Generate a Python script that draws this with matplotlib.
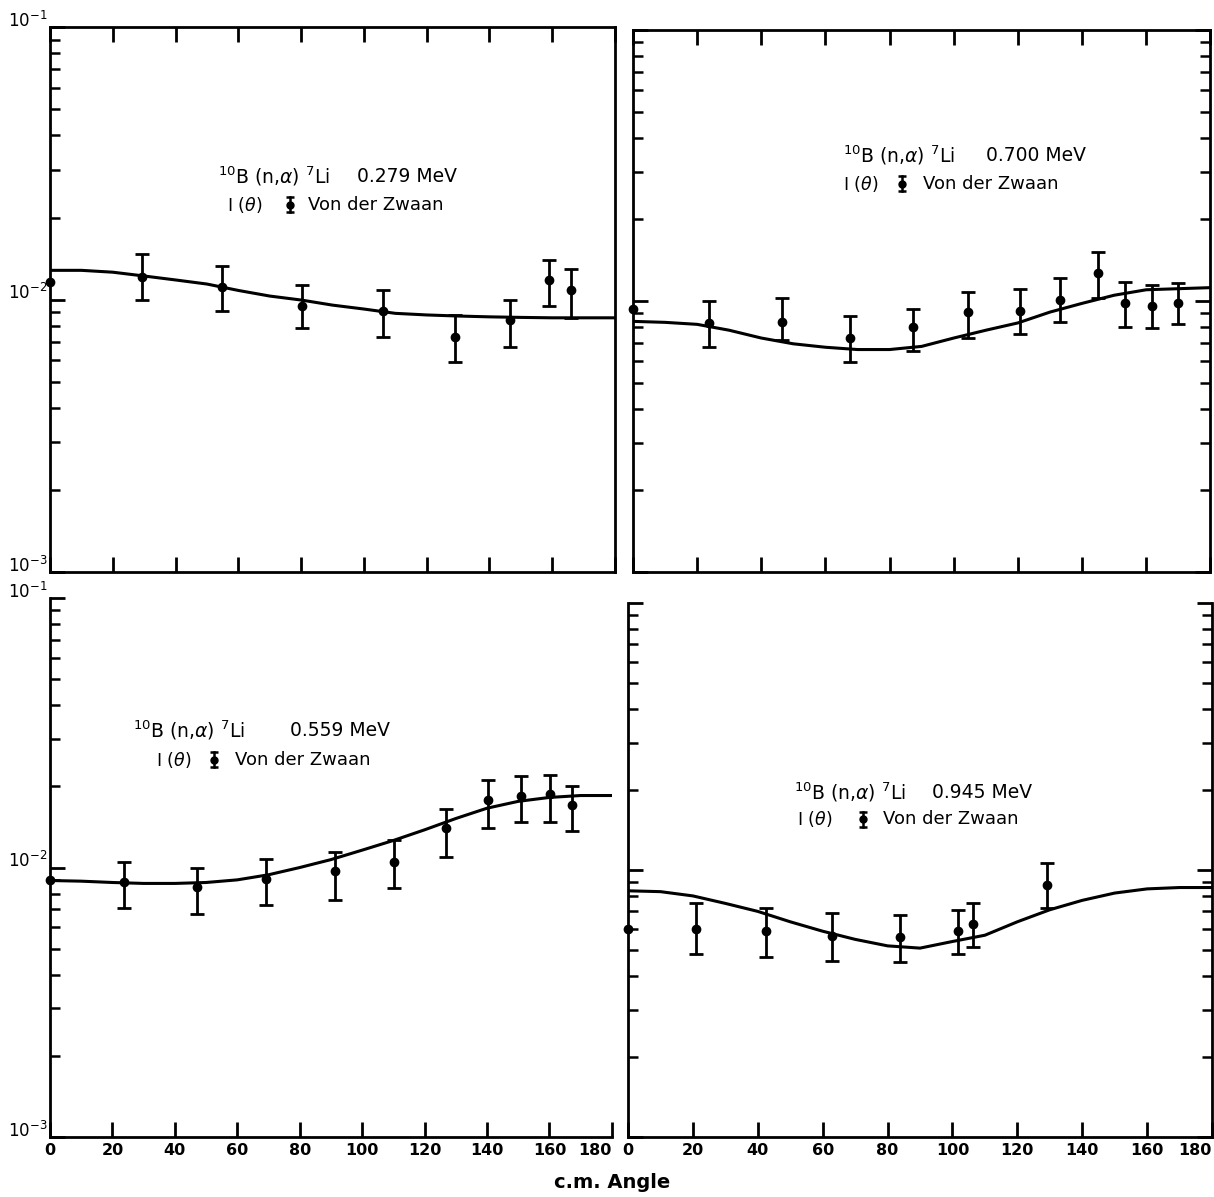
import numpy as np
import matplotlib
matplotlib.use("Agg")
import matplotlib.pyplot as plt
import matplotlib.transforms as mtransforms
from matplotlib.ticker import LogLocator, NullFormatter, FixedLocator

plt.rcParams['font.family'] = ['DejaVu Sans']
plt.rcParams['mathtext.fontset'] = 'dejavusans'

# ---------------- data ----------------
curve_angle = [0, 10, 20, 30, 40, 50, 60, 70, 80, 90, 100, 110, 120, 130, 140, 150, 160, 170, 180]

# 0.279 MeV
c279 = [0.0128, 0.0128, 0.0126, 0.0122, 0.0118, 0.0114, 0.0108, 0.0103, 0.00996, 0.00954,
        0.00923, 0.0089, 0.00878, 0.0087, 0.00864, 0.0086, 0.00857, 0.00857, 0.00857]
x279 = [29.3, 54.8, 80.3, 106, 129, 146.5, 159, 166]
y279 = [0.0121, 0.0111, 0.00947, 0.0091, 0.0073, 0.0084, 0.0118, 0.0108]
lo279 = [0.00996, 0.00908, 0.00785, 0.00728, 0.0059, 0.0067, 0.00946, 0.00855]
hi279 = [0.01469, 0.01328, 0.01129, 0.01083, 0.00877, 0.00996, 0.01396, 0.01294]
p0_279 = 0.0116

# 0.700 MeV
c700 = [0.00841, 0.00834, 0.0082, 0.0078, 0.0073, 0.00695, 0.00675, 0.00662, 0.00662, 0.0068,
        0.0073, 0.0078, 0.0083, 0.0091, 0.0098, 0.0105, 0.0110, 0.0111, 0.0112]
x700 = [23.6, 46.6, 67.7, 87.3, 104.3, 120.5, 133.2, 145, 153.4, 161.8, 170]
y700 = [0.00826, 0.0084, 0.00728, 0.0080, 0.0091, 0.0092, 0.01005, 0.0127, 0.0098, 0.0096, 0.0098]
lo700 = [0.00675, 0.00716, 0.00594, 0.00653, 0.00728, 0.00753, 0.00834, 0.0103, 0.00805, 0.00792, 0.0082]
hi700 = [0.00996, 0.0103, 0.00877, 0.00937, 0.01083, 0.01111, 0.0122, 0.0152, 0.0118, 0.0115, 0.0117]
p0_700 = 0.00937

# 0.559 MeV
c559 = [0.00895, 0.0089, 0.0088, 0.00873, 0.00873, 0.0088, 0.0090, 0.0094, 0.0100, 0.0107,
        0.0116, 0.0126, 0.0138, 0.0152, 0.0166, 0.0176, 0.0182, 0.0185, 0.0185]
x559 = [23.7, 47.1, 69.2, 91.3, 110.2, 127, 140.4, 151, 160.3, 167.3]
y559 = [0.0088, 0.0085, 0.0091, 0.0097, 0.01044, 0.01407, 0.01774, 0.0184, 0.0187, 0.0171]
lo559 = [0.00705, 0.00675, 0.00723, 0.0076, 0.00836, 0.0109, 0.01396, 0.0147, 0.0147, 0.0137]
hi559 = [0.01044, 0.0100, 0.0108, 0.01146, 0.0127, 0.01655, 0.02104, 0.0218, 0.0221, 0.0201]
p0_559 = 0.0090

# 0.945 MeV
c945 = [0.00836, 0.0083, 0.0080, 0.0075, 0.0070, 0.0064, 0.0059, 0.0055, 0.0052, 0.0051,
        0.0054, 0.0057, 0.0064, 0.0071, 0.0077, 0.0082, 0.0085, 0.0086, 0.0086]
x945 = [21, 42.5, 63, 83.8, 101.7, 106.4, 129]
y945 = [0.0060, 0.00593, 0.00564, 0.0056, 0.0059, 0.0063, 0.0088]
lo945 = [0.00484, 0.00471, 0.00456, 0.00452, 0.00484, 0.00514, 0.00723]
hi945 = [0.00755, 0.00723, 0.00692, 0.00681, 0.00711, 0.00755, 0.0106]
p0_945 = 0.00604

xticks = [0, 20, 40, 60, 80, 100, 120, 140, 160, 180]
xticklabels = ['0', '20', '40', '60', '80', '100', '120', '140', '160', '180']
energies = ['0.279 MeV', '0.700 MeV', '0.559 MeV', '0.945 MeV']

# ---------------- figure ----------------
fig = plt.figure(figsize=(12.14, 11.97), dpi=100)

rects = [
    [0.0412, 0.5221, 0.4654, 0.4553],   # top-left
    [0.5214, 0.5221, 0.4756, 0.4529],   # top-right
    [0.0412, 0.0501, 0.4628, 0.4503],   # bottom-left
    [0.5173, 0.0501, 0.4811, 0.4461],   # bottom-right
]

panels = [
    (c279, x279, y279, lo279, hi279, p0_279),
    (c700, x700, y700, lo700, hi700, p0_700),
    (c559, x559, y559, lo559, hi559, p0_559),
    (c945, x945, y945, lo945, hi945, p0_945),
]

# text positions (axes fraction):
# line1 x, energy x, line1 y, line2 x, glyph x, name x, line2 y
txtpos = [
    (0.297, 0.544, 0.726, 0.314, 0.424, 0.456, 0.674),
    (0.364, 0.612, 0.768, 0.364, 0.466, 0.503, 0.716),
    (0.147, 0.428, 0.755, 0.189, 0.291, 0.330, 0.700),
    (0.284, 0.520, 0.646, 0.289, 0.402, 0.436, 0.595),
]

lw_sp = 2.0
yshift = mtransforms.ScaledTranslation(0, 6 / 72, fig.dpi_scale_trans)

for i, (rect, pdata) in enumerate(zip(rects, panels)):
    curve, xs, ys, lo, hi, p0 = pdata
    ax = fig.add_axes(rect)
    ax.set_yscale('log')
    ax.set_xlim(0, 180)
    ax.set_ylim(1e-3, 1e-1)

    ax.plot(curve_angle, curve, color='black', lw=2.2, solid_capstyle='round')
    ys_a = np.array(ys)
    yerr = [ys_a - np.array(lo), np.array(hi) - ys_a]
    ax.errorbar(xs, ys, yerr=yerr, fmt='o', color='black', ms=6,
                elinewidth=2.0, capsize=5, capthick=2.0)
    ax.plot([0], [p0], 'o', color='black', ms=6, clip_on=False)

    top_row = i < 2
    left_col = i in (0, 2)

    for s in ax.spines.values():
        s.set_linewidth(lw_sp)
    if not top_row:
        ax.spines['top'].set_visible(False)
    if i == 2:
        ax.spines['right'].set_visible(False)

    ax.xaxis.set_major_locator(FixedLocator(xticks))
    ax.yaxis.set_major_locator(LogLocator(base=10, numticks=10))
    ax.yaxis.set_minor_locator(LogLocator(base=10, subs=np.arange(2, 10), numticks=20))
    ax.yaxis.set_minor_formatter(NullFormatter())

    ax.tick_params(axis='both', which='major', direction='in', length=11, width=2.0,
                   colors='black')
    ax.tick_params(axis='y', which='minor', direction='in', length=7, width=1.8)
    ax.tick_params(axis='x', top=top_row, bottom=True)
    ax.tick_params(axis='y', which='both', left=True, right=not left_col)

    if top_row:
        ax.set_xticklabels([])
    else:
        labs = ax.set_xticklabels(xticklabels, fontsize=11.5, fontweight='bold')
        labs[-1].set_horizontalalignment('right')
        ax.tick_params(axis='x', pad=4)
    if left_col:
        ax.set_yticks([1e-3, 1e-2, 1e-1])
        ax.set_yticklabels([r'$10^{-3}$', r'$10^{-2}$', r'$10^{-1}$'], fontsize=12)
        ax.tick_params(axis='y', which='major', pad=2)
        for lab in ax.get_yticklabels():
            lab.set_transform(lab.get_transform() + yshift)
    else:
        ax.tick_params(axis='y', which='major', labelleft=False)

    t1x, ex, t1y, t2x, gx, nx, t2y = txtpos[i]
    ax.text(t1x, t1y, r'$^{10}$B (n,$\alpha$) $^{7}$Li',
            transform=ax.transAxes, ha='left', va='center', fontsize=13.5)
    ax.text(ex, t1y, energies[i], transform=ax.transAxes, ha='left',
            va='center', fontsize=13.5)
    ax.text(t2x, t2y, r'I ($\theta$)', transform=ax.transAxes, ha='left',
            va='center', fontsize=12.5)
    # error-bar legend glyph
    d = 0.014
    ax.plot([gx, gx], [t2y - d, t2y + d], color='black', lw=1.8, transform=ax.transAxes)
    ax.plot([gx, gx], [t2y - d, t2y + d], ls='none', marker='_', ms=6, mew=1.8,
            color='black', transform=ax.transAxes)
    ax.plot([gx], [t2y], 'o', ms=5, color='black', transform=ax.transAxes)
    ax.text(nx, t2y, 'Von der Zwaan', transform=ax.transAxes, ha='left',
            va='center', fontsize=13)

fig.text(0.504, 0.0117, 'c.m. Angle', ha='center', va='center', fontsize=14,
         fontweight='bold')

fig.savefig('out.png', dpi=100, facecolor='white')
